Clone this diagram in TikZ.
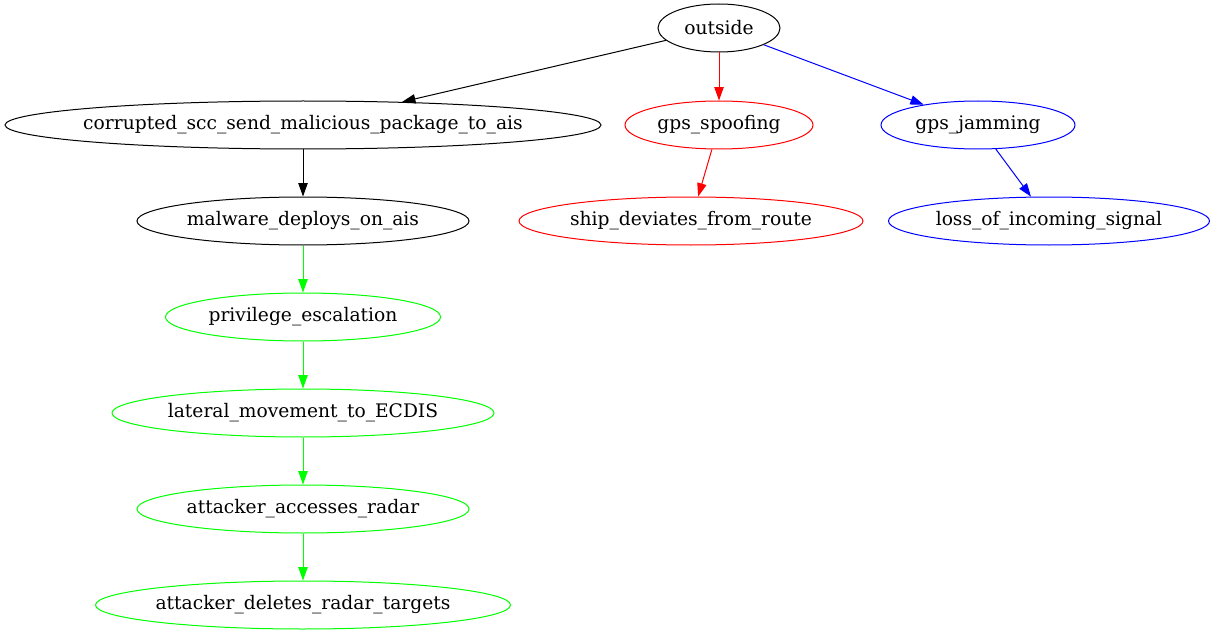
\documentclass[tikz,border=0pt]{standalone}
\usepackage{fontspec}
\setmainfont{DejaVu Serif}
\usetikzlibrary{shapes.geometric,arrows.meta}
\definecolor{ggreen}{RGB}{0,255,0}
\definecolor{gred}{RGB}{255,0,0}
\definecolor{gblue}{RGB}{0,0,255}
\newcommand{\zlabel}[1]{\makebox[0pt]{#1}}
\tikzset{
  gnode/.style={ellipse, draw, inner sep=0pt, minimum height=36pt, line width=0.75pt, font=\fontsize{14}{16}\selectfont},
  garrow/.style={-{Triangle[length=10pt,width=7pt]}, line width=0.75pt}
}
\begin{document}
\begin{tikzpicture}[x=0.75pt,y=-0.75pt]
\useasboundingbox (0,0) rectangle (1215,635);
\node[gnode, minimum width=91.5pt] (outside) at (719,28) {\zlabel{outside}};
\node[gnode, minimum width=447pt] (corrupted) at (303,125) {\zlabel{corrupted\_scc\_send\_malicious\_package\_to\_ais}};
\node[gnode, gred, text=black, minimum width=141pt] (spoof) at (719,125) {\zlabel{gps\_spoofing}};
\node[gnode, gblue, text=black, minimum width=145.5pt] (jam) at (978,125) {\zlabel{gps\_jamming}};
\node[gnode, minimum width=249pt] (malware) at (303,221) {\zlabel{malware\_deploys\_on\_ais}};
\node[gnode, gred, text=black, minimum width=258pt] (ship) at (691,221) {\zlabel{ship\_deviates\_from\_route}};
\node[gnode, gblue, text=black, minimum width=240.75pt] (loss) at (1049,221) {\zlabel{loss\_of\_incoming\_signal}};
\node[gnode, ggreen, text=black, minimum width=206.25pt] (priv) at (303,317) {\zlabel{privilege\_escalation}};
\node[gnode, ggreen, text=black, minimum width=286.5pt] (lateral) at (303,413) {\zlabel{lateral\_movement\_to\_ECDIS}};
\node[gnode, ggreen, text=black, minimum width=249pt] (access) at (303,509) {\zlabel{attacker\_accesses\_radar}};
\node[gnode, ggreen, text=black, minimum width=311.25pt] (delete) at (303,605) {\zlabel{attacker\_deletes\_radar\_targets}};
\draw[garrow] (outside) -- (corrupted);
\draw[garrow, gred] (outside) -- (spoof);
\draw[garrow, gblue] (outside) -- (jam);
\draw[garrow] (corrupted) -- (malware);
\draw[garrow, gred] (spoof) -- (ship);
\draw[garrow, gblue] (jam) -- (loss);
\draw[garrow, ggreen] (malware) -- (priv);
\draw[garrow, ggreen] (priv) -- (lateral);
\draw[garrow, ggreen] (lateral) -- (access);
\draw[garrow, ggreen] (access) -- (delete);
\end{tikzpicture}
\end{document}
